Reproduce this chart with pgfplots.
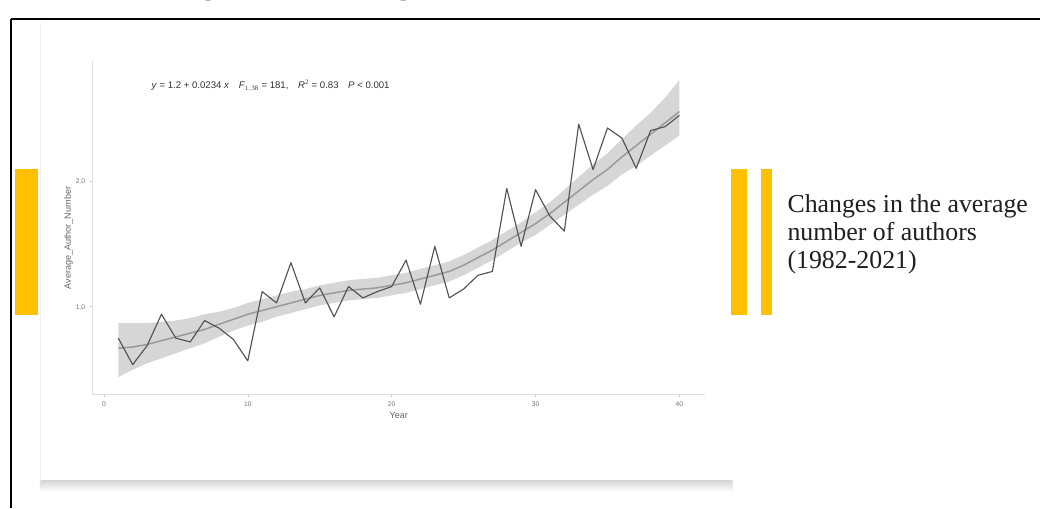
\documentclass[border=0pt]{standalone}
\usepackage{fontspec}
\setmainfont{Liberation Serif}
\newfontfamily\arial{Liberation Sans}
\usepackage{pgfplots}
\pgfplotsset{compat=1.18}
\usepackage{pgfplotstable}
\usepgfplotslibrary{fillbetween}
\definecolor{gold}{RGB}{255,192,0}

\pgfplotstableread{
x y
1 0.75
2 0.54
3 0.69
4 0.94
5 0.75
6 0.72
7 0.89
8 0.83
9 0.74
10 0.57
11 1.12
12 1.03
13 1.35
14 1.03
15 1.15
16 0.92
17 1.16
18 1.07
19 1.12
20 1.16
21 1.37
22 1.02
23 1.48
24 1.07
25 1.14
26 1.25
27 1.28
28 1.94
29 1.48
30 1.93
31 1.72
32 1.60
33 2.45
34 2.09
35 2.42
36 2.34
37 2.10
38 2.40
39 2.43
40 2.52
}\authorsdata

\pgfplotstableread{
x mid lo hi
1 0.67 0.44 0.87
2 0.68 0.50 0.87
3 0.70 0.55 0.87
4 0.73 0.59 0.88
5 0.76 0.63 0.89
6 0.79 0.67 0.91
7 0.82 0.71 0.94
8 0.86 0.76 0.96
9 0.90 0.81 0.99
10 0.94 0.85 1.03
11 0.97 0.88 1.06
12 1.00 0.92 1.09
13 1.03 0.95 1.12
14 1.06 0.98 1.14
15 1.09 1.01 1.17
16 1.11 1.03 1.19
17 1.13 1.05 1.21
18 1.14 1.06 1.22
19 1.15 1.07 1.23
20 1.17 1.09 1.25
21 1.19 1.11 1.27
22 1.22 1.14 1.30
23 1.25 1.17 1.33
24 1.28 1.20 1.36
25 1.33 1.25 1.41
26 1.39 1.31 1.47
27 1.45 1.37 1.53
28 1.52 1.44 1.60
29 1.59 1.51 1.67
30 1.66 1.57 1.75
31 1.74 1.65 1.83
32 1.83 1.73 1.93
33 1.92 1.81 2.03
34 2.01 1.89 2.13
35 2.09 1.96 2.22
36 2.19 2.05 2.33
37 2.28 2.12 2.44
38 2.37 2.20 2.54
39 2.46 2.28 2.66
40 2.55 2.36 2.80
}\loessdata

\begin{document}
\begin{tikzpicture}
\begin{scope}[x=0.75pt,y=-0.75pt]
  \path (0,0) rectangle (1041,508);
  \begin{scope}
  \clip (0,0) rectangle (1041,508);
  % title cut off at top
  \node[overlay, anchor=base west, inner sep=0] at (134,-5)
    {\bfseries\fontsize{21.6}{24}\selectfont Changes in the Average Number of Authors (1982-2021)};
  \end{scope}
  % slide border
  \draw[line width=1.5pt, black] (11,19) -- (1041,19);
  \draw[line width=1.5pt, black] (11,19) -- (11,508);
  % picture shadow
  \shade[top color=black!16, bottom color=white] (40,481) rectangle (733,492);
  \draw[black!5] (40,22) -- (40,481);
  % yellow bars
  \fill[gold] (15,169) rectangle (38,315);
  \fill[gold] (732,169) rectangle (748,315);
  \fill[gold] (762,169) rectangle (773,315);
  % right text
  \node[anchor=base west, inner sep=0, text=black!88] at (788,213) {\fontsize{19.4}{20}\selectfont Changes in the average};
  \node[anchor=base west, inner sep=0, text=black!88] at (788,240.7) {\fontsize{19.4}{20}\selectfont number of authors};
  \node[anchor=base west, inner sep=0, text=black!88] at (788,268.3) {\fontsize{19.4}{20}\selectfont (1982-2021)};
\end{scope}

\begin{axis}[
  scale only axis, width=460.1pt, height=250.4pt,
  at={(69.375pt,-296.4pt)}, anchor=south west,
  xmin=-0.8, xmax=41.8, ymin=0.30, ymax=2.95,
  axis x line*=bottom, axis y line*=left,
  axis line style={draw=black!12, line width=0.5pt},
  xtick={0,10,20,30,40}, ytick={1,2}, yticklabels={1.0,2.0},
  /pgf/number format/assume math mode=true,
  tick style={draw=black!20, line width=0.4pt}, major tick length=2pt, tick align=outside,
  ticklabel style={font=\arial\fontsize{5}{6}\selectfont, text=black!55},
  xlabel={Year}, ylabel={Average\_Author\_Number},
  every axis x label/.style={at={(axis description cs:0.5,-0.062)}, anchor=center, font=\arial\fontsize{6.8}{8}\selectfont, text=black!60},
  every axis y label/.style={at={(axis description cs:-0.039,0.47)}, rotate=90, anchor=center, font=\arial\fontsize{6.8}{8}\selectfont, text=black!60},
]
\addplot[name path=up, draw=none, forget plot] table[x=x, y=hi] {\loessdata};
\addplot[name path=low, draw=none, forget plot] table[x=x, y=lo] {\loessdata};
\addplot[fill=black!16, draw=none] fill between[of=up and low];
\addplot[black!40, line width=1.1pt] table[x=x, y=mid] {\loessdata};
\addplot[black!68, line width=0.85pt, line join=round] table[x=x, y=y] {\authorsdata};
\node[anchor=base west, inner sep=0, text=black!80, font=\arial\fontsize{7.2}{8}\selectfont]
  at (axis cs:3.3,2.73)
  {\textit{y} = 1.2 + 0.0234 \textit{x}\quad \textit{F}$_{\mathrm{1,38}}$ = 181,\quad \textit{R}$^{\mathrm{2}}$ = 0.83\quad \textit{P} < 0.001};
\end{axis}
\end{tikzpicture}
\end{document}
